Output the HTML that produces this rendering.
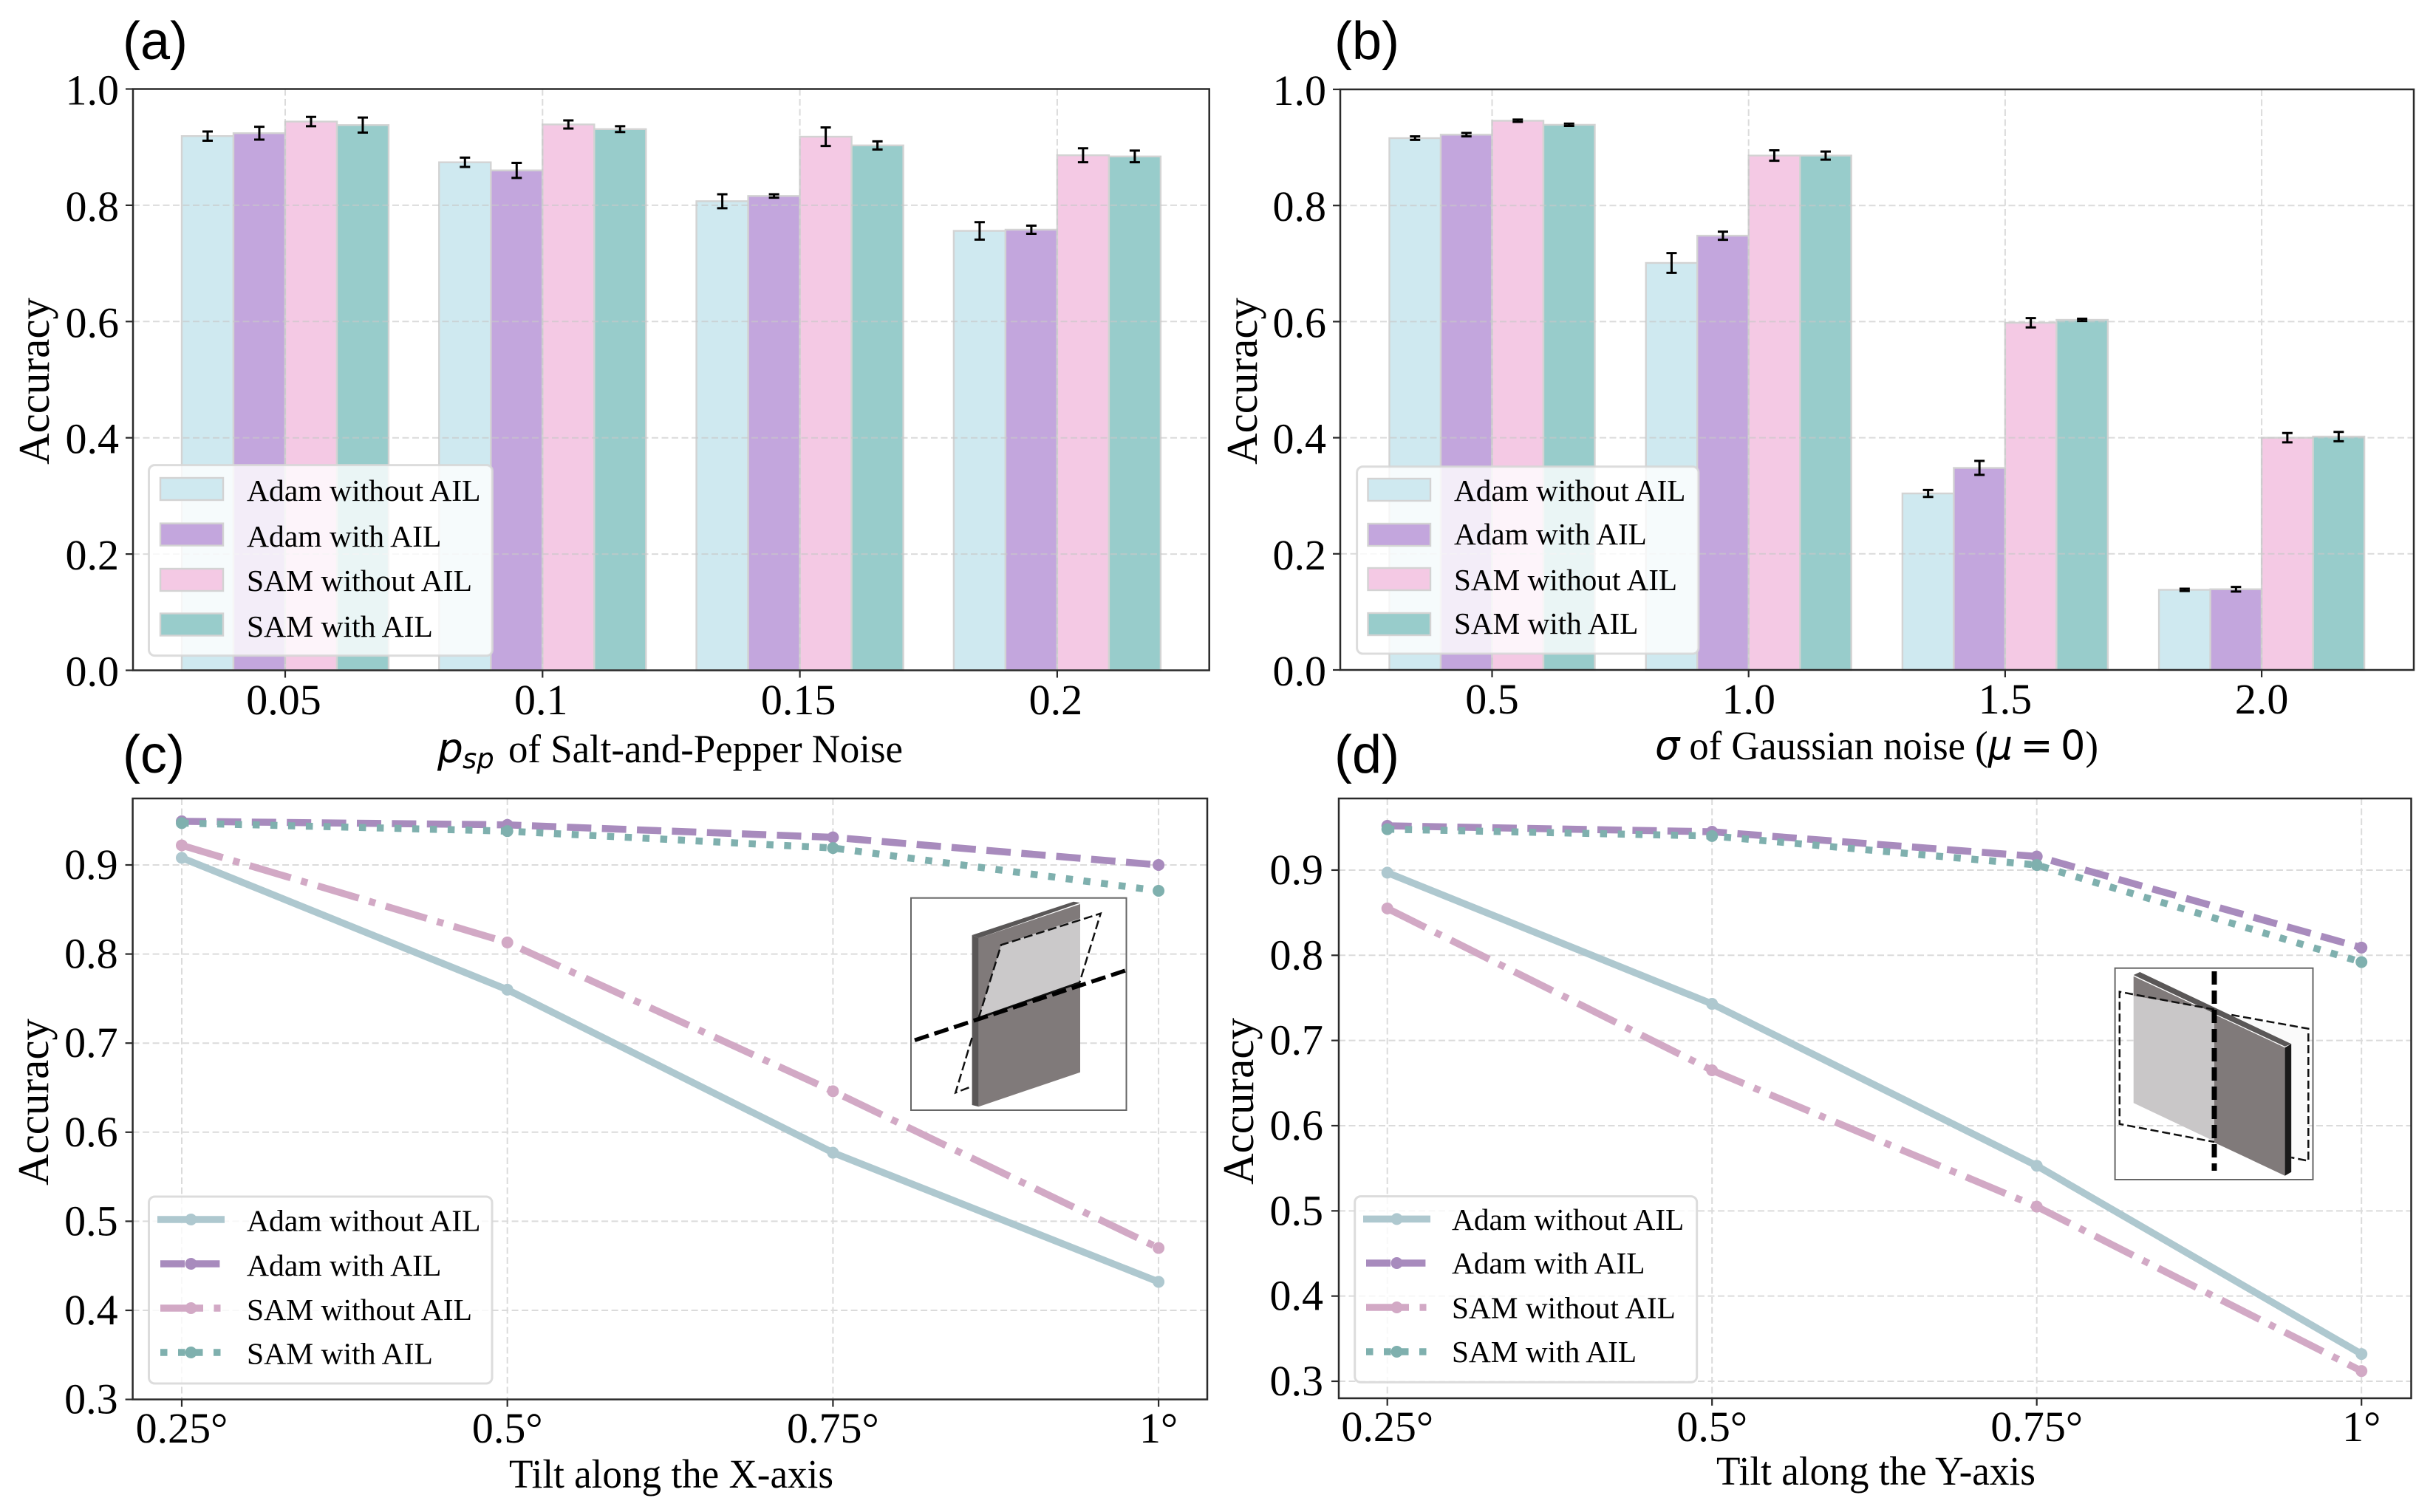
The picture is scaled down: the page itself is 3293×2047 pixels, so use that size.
<!DOCTYPE html>
<html lang="en">
<head>
<meta charset="utf-8">
<title>Accuracy under noise and tilt</title>
<style>
html,body{margin:0;padding:0;background:#fff;}
svg{display:block;}
text{font-family:"Liberation Serif","DejaVu Serif",serif;fill:#000;}
</style>
</head>
<body>
<svg id="figure" width="3293" height="2047" viewBox="0 0 3293 2047">
  <rect x="0" y="0" width="3293" height="2047" fill="#fff"/>
  <g id="panel-a"></g>
  <g id="panel-b"></g>
  <g id="panel-c"></g>
  <g id="panel-d"></g>

  <g>
    <polygon points="1315.6,1266 1324.6,1270 1324.6,1498.3 1315.6,1496" fill="#5a5757"/>
    <polygon points="1315.6,1266 1453,1220.7 1462,1222.3 1324.6,1270" fill="#5a5757"/>
    <polygon points="1324.6,1270 1462,1224 1462,1451.7 1324.6,1498.3" fill="#807a7a"/>
    <polygon points="1355,1279.3 1462,1243.3 1462,1330 1324.6,1378.3" fill="#cbc9ca"/>
    <polyline points="1324.6,1378.3 1355,1279.3 1489.7,1236.7 1460.7,1331.7" fill="none" stroke="#111" stroke-width="2.5" stroke-dasharray="12 5"/>
    <polyline points="1315.6,1405 1293.3,1479.3 1315.6,1470.7" fill="none" stroke="#111" stroke-width="2.5" stroke-dasharray="12 5"/>
    <line x1="1325" y1="1378" x2="1462" y2="1330" stroke="#111" stroke-width="3"/>
    <line x1="1238" y1="1408.3" x2="1523" y2="1314" stroke="#000" stroke-width="5.5" stroke-dasharray="20 8"/>
    <rect x="1233" y="1215.7" width="291.5" height="287.3" fill="none" stroke="#666" stroke-width="2"/>
  </g>

  <g>
    <polygon points="3020.3,1374 3124.3,1392.7 3124.3,1571.7 3101,1567 3101,1413" fill="#fafafa"/>
    <polygon points="2887.7,1321.7 2997,1373.3 2997,1366.7 2887.7,1348.3" fill="#807a7a"/>
    <polygon points="2887.7,1348.3 2997,1366.7 2997,1545 2887.7,1493.3" fill="#c9c7c8"/>
    <polygon points="2887.7,1320 2896.3,1316 3101.2,1413.3 3092.6,1416.7 2997,1372" fill="#5a5757"/>
    <polygon points="2997,1373.3 3092.6,1418.3 3092.6,1591.7 2997,1546.7" fill="#807a7a"/>
    <polygon points="3092.6,1418.3 3101.2,1413.3 3101.2,1586.7 3092.6,1591.7" fill="#1a1a1a"/>
    <polyline points="2997,1366.7 2868.8,1342.7 2868.8,1521.7 2997,1546" fill="none" stroke="#111" stroke-width="2.5" stroke-dasharray="11 5"/>
    <polyline points="3020.3,1374 3124.3,1392.7 3124.3,1571.7 3101.2,1567" fill="none" stroke="#111" stroke-width="2.5" stroke-dasharray="11 5"/>
    <line x1="2997" y1="1315" x2="2997" y2="1585" stroke="#000" stroke-width="7" stroke-dasharray="18 8"/>
    <rect x="2862.6" y="1310.7" width="267.9" height="286.3" fill="none" stroke="#666" stroke-width="2"/>
  </g>
</svg>

<script>
/* Panel (a): salt-and-pepper noise */
const categoriesA = ['0.05', '0.1', '0.15', '0.2'];
const adamNoAilA = [0.919, 0.874, 0.807, 0.756];
const adamAilA = [0.924, 0.860, 0.816, 0.758];
const samNoAilA = [0.944, 0.939, 0.918, 0.886];
const samAilA = [0.938, 0.931, 0.903, 0.884];
const adamNoAilErrA = [0.008, 0.008, 0.012, 0.015];
const adamAilErrA = [0.011, 0.013, 0.003, 0.007];
const samNoAilErrA = [0.008, 0.007, 0.016, 0.012];
const samAilErrA = [0.013, 0.005, 0.007, 0.010];

/* Panel (b): Gaussian noise */
const categoriesB = ['0.5', '1.0', '1.5', '2.0'];
const adamNoAilB = [0.916, 0.701, 0.304, 0.138];
const adamAilB = [0.922, 0.748, 0.348, 0.139];
const samNoAilB = [0.946, 0.886, 0.598, 0.400];
const samAilB = [0.939, 0.886, 0.603, 0.402];
const adamNoAilErrB = [0.003, 0.017, 0.006, 0.002];
const adamAilErrB = [0.003, 0.007, 0.012, 0.004];
const samNoAilErrB = [0.002, 0.009, 0.008, 0.008];
const samAilErrB = [0.002, 0.007, 0.002, 0.008];

const barTicks = ['0.0', '0.2', '0.4', '0.6', '0.8', '1.0'];

/* Panel (c): tilt along X */
const categoriesC = ['0.25°', '0.5°', '0.75°', '1°'];
const adamNoAilC = [0.908, 0.760, 0.577, 0.432];
const adamAilC = [0.949, 0.945, 0.931, 0.900];
const samNoAilC = [0.922, 0.813, 0.646, 0.470];
const samAilC = [0.947, 0.938, 0.919, 0.871];

/* Panel (d): tilt along Y */
const categoriesD = ['0.25°', '0.5°', '0.75°', '1°'];
const adamNoAilD = [0.897, 0.743, 0.553, 0.332];
const adamAilD = [0.952, 0.945, 0.916, 0.809];
const samNoAilD = [0.855, 0.665, 0.505, 0.312];
const samAilD = [0.948, 0.940, 0.906, 0.792];

const lineTicks = ['0.3', '0.4', '0.5', '0.6', '0.7', '0.8', '0.9'];
const seriesNames = ['Adam without AIL', 'Adam with AIL', 'SAM without AIL', 'SAM with AIL'];

const NS = 'http://www.w3.org/2000/svg';
const barColors = ['#cfe9f0', '#c3a6dd', '#f4c9e4', '#98cccb'];
const lineColors = ['#aec8cf', '#a88bbd', '#d2a9c5', '#7fb0ae'];
const lineDashes = ['none', '33 14.4', '58 14.5 9 14.5', '9.5 14.5'];

function shape(tag, parent, attrs) {
  const e = document.createElementNS(NS, tag);
  for (const k in attrs) e.setAttribute(k, attrs[k]);
  parent.appendChild(e);
  return e;
}
function slug(s) {
  return String(s).toLowerCase().replace(/[^a-z0-9]+/g, '-').replace(/^-|-$/g, '');
}
function label(parent, name, str, x, y, size, anchor) {
  const e = shape('text', parent, {x: x, y: y, 'font-size': size, 'text-anchor': anchor || 'start'});
  
  
  e.textContent = str;
  return e;
}
function fitWidth(e, w) {
  e.setAttribute('textLength', w);
  e.setAttribute('lengthAdjust', 'spacingAndGlyphs');
}

function drawGrid(g, box, xs, ys) {
  const grid = shape('g', g, {stroke: '#c8c8c8', 'stroke-width': 2, 'stroke-dasharray': '9 4.5', opacity: 0.65});
  
  
  xs.forEach(function (x) {
    const v = shape('line', grid, {x1: x, x2: x, y1: box.top, y2: box.bottom});
    
    
  });
  ys.forEach(function (y) {
    const h = shape('line', grid, {x1: box.left, x2: box.right, y1: y, y2: y});
    
    
  });
}

function drawAxes(g, box, xs, xLabels, ys, yLabels, lay) {
  const frame = shape('rect', g, {x: box.left, y: box.top, width: box.right - box.left, height: box.bottom - box.top, fill: 'none', stroke: '#2a2a2a', 'stroke-width': 2.5});
  
  
  xs.forEach(function (x, i) {
    const t = shape('line', g, {x1: x, x2: x, y1: box.bottom, y2: box.bottom + 10, stroke: '#2a2a2a', 'stroke-width': 2.2});
    
    
    label(g, 'x-tick-label-' + slug(xLabels[i]), xLabels[i], x + lay.xLabelShift, lay.xLabelBase, 58, 'middle');
  });
  ys.forEach(function (y, i) {
    const t = shape('line', g, {x1: box.left - 10, x2: box.left, y1: y, y2: y, stroke: '#2a2a2a', 'stroke-width': 2.2});
    
    
    label(g, 'y-tick-label-' + slug(yLabels[i]), yLabels[i], box.left - lay.yLabelGap, y + lay.yLabelBase, 58, 'end');
  });
}

function yTitle(g, x, y) {
  const e = label(g, 'y-axis-title', 'Accuracy', 0, 0, 59, 'middle');
  e.setAttribute('transform', 'translate(' + x + ',' + y + ') rotate(-90)');
}

function panelLetter(g, str, x, y) {
  const e = label(g, 'panel-label', str, x, y, 72);
  e.setAttribute('style', 'font-family:"Liberation Sans",Arial,sans-serif');
}

function legendFrame(g, lay) {
  const legend = shape('g', g, {});
  
  
  const bg = shape('rect', legend, {x: lay.x, y: lay.y, width: lay.w, height: lay.h, rx: 8, ry: 8, fill: '#fff', 'fill-opacity': 0.8, stroke: '#d6d6d6', 'stroke-width': 3, 'stroke-opacity': 0.85});
  
  
  return legend;
}

function barPanel(g, box, lay, categories, series, errors) {
  const xScale = function (i) { return lay.x0 + i * lay.step; };
  const yScale = function (v) { return box.bottom - v * (box.bottom - box.top); };
  const xs = categories.map(function (c, i) { return xScale(i); });
  const tickVals = barTicks.map(Number);
  const ys = tickVals.map(yScale);

  series.forEach(function (vals, s) {
    vals.forEach(function (v, i) {
      const b = shape('rect', g, {x: xScale(i) + (s - 2) * lay.bw, y: yScale(v), width: lay.bw, height: yScale(0) - yScale(v), fill: barColors[s], stroke: '#d3d3d3', 'stroke-width': 2.4});
      
      
    });
  });
  drawGrid(g, box, xs, ys.slice(1, 5));
  series.forEach(function (vals, s) {
    vals.forEach(function (v, i) {
      const cx = xScale(i) + (s - 1.5) * lay.bw;
      const top = yScale(v + errors[s][i]);
      const bot = yScale(v - errors[s][i]);
      const d = 'M' + cx + ' ' + top + 'V' + bot + 'M' + (cx - 7) + ' ' + top + 'H' + (cx + 7) + 'M' + (cx - 7) + ' ' + bot + 'H' + (cx + 7);
      const err = shape('path', g, {d: d, fill: 'none', stroke: '#000', 'stroke-width': 3});
      
      
    });
  });
  drawAxes(g, box, xs, categories, ys, barTicks, lay);

  const legend = legendFrame(g, lay.legend);
  seriesNames.forEach(function (n, s) {
    const p = shape('rect', legend, {x: lay.legend.px, y: lay.legend.rows[s], width: lay.legend.pw, height: 30, fill: barColors[s], stroke: '#d3d3d3', 'stroke-width': 2.4});
    
    
    label(legend, 'legend-entry-' + slug(n), n, lay.legend.tx, lay.legend.bases[s], lay.legend.fs);
  });
}

function linePanel(g, box, lay, categories, series) {
  const xScale = function (i) { return lay.x0 + i * lay.step; };
  const yScale = function (v) { return lay.y03 - (v - 0.3) * lay.yUnit; };
  const xs = categories.map(function (c, i) { return xScale(i); });
  const ys = lineTicks.map(Number).map(yScale);
  drawGrid(g, box, xs, ys);

  series.forEach(function (vals, s) {
    const pts = vals.map(function (v, i) { return xScale(i) + ',' + yScale(v); }).join(' ');
    const line = shape('polyline', g, {points: pts, fill: 'none', stroke: lineColors[s], 'stroke-width': 9.5, 'stroke-dasharray': lineDashes[s]});
    
    
    vals.forEach(function (v, i) {
      const m = shape('circle', g, {cx: xScale(i), cy: yScale(v), r: 8, fill: lineColors[s]});
      
      
    });
  });
  drawAxes(g, box, xs, categories, ys, lineTicks, lay);

  const legend = legendFrame(g, lay.legend);
  seriesNames.forEach(function (n, s) {
    const L = lay.legend;
    const extra = s === 0 ? 4 : 0;
    const h = shape('line', legend, {x1: L.hx0 - extra, x2: L.hx1 + extra, y1: L.rows[s], y2: L.rows[s], stroke: lineColors[s], 'stroke-width': 9.5, 'stroke-dasharray': lineDashes[s]});
    
    
    const c = shape('circle', legend, {cx: (L.hx0 + L.hx1) / 2, cy: L.rows[s], r: 8, fill: lineColors[s]});
    
    
    label(legend, 'legend-entry-' + slug(n), n, L.tx, L.bases[s], L.fs);
  });
}

/* ---- panel (a) ---- */
const gA = document.getElementById('panel-a');
barPanel(gA, {left: 180, right: 1636.7, top: 120.5, bottom: 907.5},
  {x0: 386, step: 348.3, bw: 70, xLabelShift: -2, xLabelBase: 967, yLabelGap: 19, yLabelBase: 21,
   legend: {x: 201.5, y: 629.6, w: 465, h: 258, px: 217, pw: 85, rows: [647, 708.6, 770, 830.5], tx: 334, bases: [678, 740, 800, 862], fs: 41.6}},
  categoriesA, [adamNoAilA, adamAilA, samNoAilA, samAilA], [adamNoAilErrA, adamAilErrA, samNoAilErrA, samAilErrA]);
panelLetter(gA, '(a)', 166, 80);
yTitle(gA, 66, 516);
const pA = label(gA, 'x-axis-title-symbol', 'p', 592, 1032, 55);
pA.setAttribute('style', 'font-family:"DejaVu Sans",sans-serif;font-style:italic');
const pSub = label(gA, 'x-axis-title-subscript', 'sp', 626, 1040, 37);
pSub.setAttribute('style', 'font-family:"DejaVu Sans",sans-serif;font-style:italic');
fitWidth(label(gA, 'x-axis-title', 'of Salt-and-Pepper Noise', 688, 1032, 54), 534);

/* ---- panel (b) ---- */
const gB = document.getElementById('panel-b');
barPanel(gB, {left: 1814, right: 3267, top: 121, bottom: 907},
  {x0: 2019.5, step: 347.2, bw: 69.5, xLabelShift: 0, xLabelBase: 966, yLabelGap: 19, yLabelBase: 21,
   legend: {x: 1836.6, y: 631.7, w: 462.4, h: 253.3, px: 1851.5, pw: 84.5, rows: [648, 709, 769, 830], tx: 1968, bases: [678, 737, 799, 858], fs: 41.2}},
  categoriesB, [adamNoAilB, adamAilB, samNoAilB, samAilB], [adamNoAilErrB, adamAilErrB, samNoAilErrB, samAilErrB]);
panelLetter(gB, '(b)', 1806, 80);
yTitle(gB, 1701, 516);
const xTitleB = label(gB, 'x-axis-title', '', 2240, 1028, 55);
fitWidth(xTitleB, 600);
const sigma = shape('tspan', xTitleB, {style: 'font-family:"DejaVu Sans",sans-serif;font-style:italic'});
sigma.textContent = 'σ';
const midB = shape('tspan', xTitleB, {});
midB.textContent = ' of Gaussian noise (';
const mu = shape('tspan', xTitleB, {style: 'font-family:"DejaVu Sans",sans-serif;font-style:italic'});
mu.textContent = 'μ';
const eqB = shape('tspan', xTitleB, {style: 'font-family:"DejaVu Sans",sans-serif'});
eqB.textContent = '\u2009=\u20090';
const endB = shape('tspan', xTitleB, {});
endB.textContent = ')';

/* ---- panel (c) ---- */
const gC = document.getElementById('panel-c');
linePanel(gC, {left: 179.6, right: 1634, top: 1081, bottom: 1894.6},
  {x0: 246, step: 440.7, y03: 1894.6, yUnit: 1206, xLabelShift: 0, xLabelBase: 1953, yLabelGap: 20, yLabelBase: 19,
   legend: {x: 201.5, y: 1620, w: 464.5, h: 253, hx0: 217, hx1: 300, rows: [1651, 1711, 1771, 1831], tx: 334, bases: [1666.6, 1727, 1787, 1846.6], fs: 41.6}},
  categoriesC, [adamNoAilC, adamAilC, samNoAilC, samAilC]);
panelLetter(gC, '(c)', 166, 1046);
yTitle(gC, 65, 1492);
fitWidth(label(gC, 'x-axis-title', 'Tilt along the X-axis', 689, 2014, 55), 439);

/* ---- panel (d) ---- */
const gD = document.getElementById('panel-d');
linePanel(gD, {left: 1812, right: 3263.5, top: 1081, bottom: 1893},
  {x0: 1877.7, step: 439.5, y03: 1870, yUnit: 1153.4, xLabelShift: 0, xLabelBase: 1951, yLabelGap: 21, yLabelBase: 19,
   legend: {x: 1833.7, y: 1619.6, w: 463, h: 251.8, hx0: 1849, hx1: 1932, rows: [1650.4, 1710, 1770, 1830], tx: 1965, bases: [1665, 1724, 1784.6, 1844], fs: 41.3}},
  categoriesD, [adamNoAilD, adamAilD, samNoAilD, samAilD]);
panelLetter(gD, '(d)', 1806, 1046);
yTitle(gD, 1696, 1491);
fitWidth(label(gD, 'x-axis-title', 'Tilt along the Y-axis', 2323, 2010, 55), 432);
</script>
</body>
</html>
